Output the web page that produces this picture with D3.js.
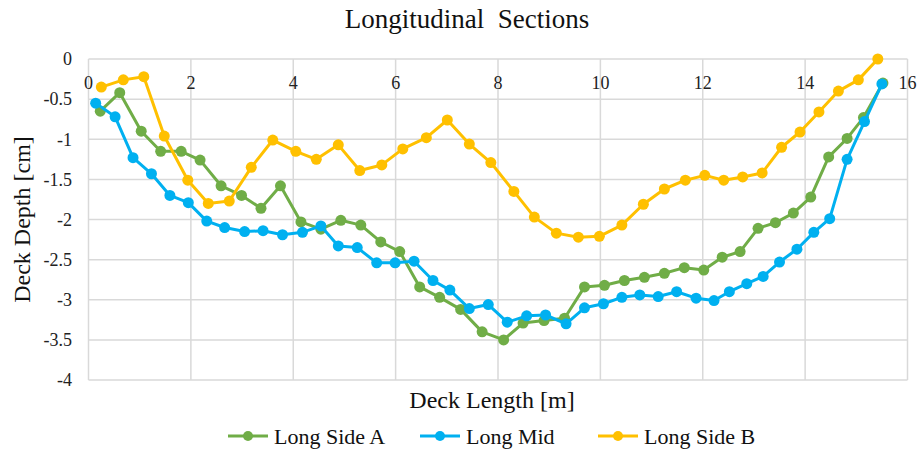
<!DOCTYPE html>
<html>
<head>
<meta charset="utf-8">
<script src="https://cdn.jsdelivr.net/npm/d3@7"></script>
<style>
  body { margin: 0; background: #fff; }
  svg { display: block; font-family: "Liberation Serif", "Times New Roman", serif; }
</style>
</head>
<body>
<div id="chart"></div>
<script>
// data
var sideAX = [0.23,0.61,1.03,1.41,1.81,2.18,2.59,2.99,3.37,3.75,4.15,4.54,4.93,5.32,5.71,6.08,6.47,6.86,7.27,7.69,8.11,8.49,8.90,9.30,9.69,10.08,10.47,10.86,11.25,11.64,12.02,12.38,12.73,13.08,13.42,13.77,14.11,14.46,14.82,15.14,15.52]
var sideAY = [-0.65,-0.42,-0.90,-1.15,-1.15,-1.26,-1.58,-1.70,-1.86,-1.58,-2.03,-2.12,-2.01,-2.07,-2.28,-2.40,-2.84,-2.97,-3.12,-3.40,-3.50,-3.29,-3.26,-3.23,-2.84,-2.82,-2.76,-2.72,-2.67,-2.60,-2.63,-2.47,-2.40,-2.11,-2.04,-1.92,-1.72,-1.22,-0.99,-0.73,-0.30]

var midX = [0.14,0.52,0.87,1.23,1.59,1.95,2.31,2.66,3.05,3.41,3.79,4.18,4.54,4.88,5.25,5.63,5.99,6.36,6.73,7.06,7.44,7.81,8.18,8.56,8.93,9.33,9.69,10.06,10.42,10.77,11.13,11.49,11.87,12.22,12.52,12.86,13.18,13.50,13.84,14.17,14.48,14.82,15.16,15.50]
var midY = [-0.55,-0.72,-1.23,-1.43,-1.70,-1.79,-2.02,-2.10,-2.15,-2.14,-2.19,-2.16,-2.08,-2.33,-2.35,-2.54,-2.54,-2.52,-2.76,-2.88,-3.11,-3.06,-3.28,-3.20,-3.19,-3.30,-3.10,-3.05,-2.97,-2.94,-2.96,-2.90,-2.98,-3.01,-2.90,-2.80,-2.71,-2.53,-2.37,-2.16,-1.99,-1.25,-0.78,-0.31]

var sideBX = [0.25,0.68,1.08,1.48,1.94,2.34,2.75,3.18,3.60,4.05,4.45,4.88,5.30,5.73,6.14,6.60,7.01,7.44,7.86,8.31,8.71,9.14,9.57,9.98,10.42,10.84,11.25,11.66,12.04,12.41,12.78,13.16,13.54,13.90,14.27,14.65,15.04,15.42]
var sideBY = [-0.35,-0.26,-0.22,-0.96,-1.51,-1.80,-1.77,-1.35,-1.01,-1.15,-1.25,-1.07,-1.39,-1.32,-1.12,-0.98,-0.76,-1.06,-1.29,-1.65,-1.97,-2.17,-2.22,-2.21,-2.07,-1.81,-1.62,-1.51,-1.45,-1.51,-1.47,-1.42,-1.10,-0.91,-0.66,-0.40,-0.26,0.0]

var seriesNames = ["Long Side A", "Long Mid", "Long Side B"]
var seriesColors = ["#70ad47", "#00b0f0", "#ffc000"]
var xTicks = [0, 2, 4, 6, 8, 10, 12, 14, 16]
var yTicks = [0, -0.5, -1, -1.5, -2, -2.5, -3, -3.5, -4]

var W = 921, H = 451

var series = [
  { name: seriesNames[0], color: seriesColors[0], pts: sideAX.map((x, i) => [x, sideAY[i]]) },
  { name: seriesNames[1], color: seriesColors[1], pts: midX.map((x, i) => [x, midY[i]]) },
  { name: seriesNames[2], color: seriesColors[2], pts: sideBX.map((x, i) => [x, sideBY[i]]) }
]

var x = d3.scaleLinear().domain([0, 16]).range([88.5, 907.5])
var y = d3.scaleLinear().domain([-4, 0]).range([380, 59])

var svg = d3.select("#chart").append("svg")
  .attr("width", W)
  .attr("height", H)

// grid
svg.append("g")
  .selectAll("line")
  .data(yTicks)
  .join("line")
  .attr("x1", x(0)).attr("x2", x(16))
  .attr("y1", d => y(d)).attr("y2", d => y(d))
  .attr("stroke", "#d9d9d9")
  .attr("stroke-width", 1.5)

svg.append("g")
  .selectAll("line")
  .data(xTicks)
  .join("line")
  .attr("x1", d => x(d)).attr("x2", d => x(d))
  .attr("y1", y(0)).attr("y2", y(-4))
  .attr("stroke", "#d9d9d9")
  .attr("stroke-width", 1.5)

// axis labels
svg.append("g")
  .selectAll("text")
  .data(yTicks)
  .join("text")
  .attr("x", 72)
  .attr("y", d => y(d))
  .attr("dy", "0.35em")
  .attr("text-anchor", "end")
  .attr("font-size", 18)
  .attr("fill", "#222")
  .text(d => d)

svg.append("g")
  .selectAll("text")
  .data(xTicks)
  .join("text")
  .attr("x", d => x(d))
  .attr("y", 89)
  .attr("text-anchor", "middle")
  .attr("font-size", 18)
  .attr("fill", "#222")
  .text(d => d)

// lines and points
var line = d3.line().x(d => x(d[0])).y(d => y(d[1]))

var g = svg.append("g")
series.forEach(function (s) {
  g.append("path")
    .datum(s.pts)
    .attr("d", line)
    .attr("fill", "none")
    .attr("stroke", s.color)
    .attr("stroke-width", 3)
    .attr("stroke-linejoin", "round")
  g.append("g")
    .selectAll("circle")
    .data(s.pts)
    .join("circle")
    .attr("cx", d => x(d[0]))
    .attr("cy", d => y(d[1]))
    .attr("r", 5.5)
    .attr("fill", s.color)
})

// titles
svg.append("text")
  .attr("x", 467)
  .attr("y", 28)
  .attr("text-anchor", "middle")
  .attr("font-size", 27)
  .attr("fill", "#111")
  .attr("xml:space", "preserve")
  .style("white-space", "pre")
  .text("Longitudinal  Sections")

svg.append("text")
  .attr("x", 492)
  .attr("y", 408)
  .attr("text-anchor", "middle")
  .attr("font-size", 24)
  .attr("fill", "#111")
  .text("Deck Length [m]")

svg.append("text")
  .attr("transform", "translate(30," + ((y(0) + y(-4)) / 2) + ") rotate(-90)")
  .attr("text-anchor", "middle")
  .attr("font-size", 24)
  .attr("fill", "#111")
  .text("Deck Depth [cm]")

// legend
var legendX = [228, 420, 598]
var leg = svg.append("g")
series.forEach(function (s, i) {
  var lx = legendX[i], ly = 436
  leg.append("line")
    .attr("x1", lx).attr("x2", lx + 40)
    .attr("y1", ly).attr("y2", ly)
    .attr("stroke", s.color)
    .attr("stroke-width", 3)
  leg.append("circle")
    .attr("cx", lx + 20).attr("cy", ly)
    .attr("r", 5)
    .attr("fill", s.color)
  leg.append("text")
    .attr("x", lx + 46)
    .attr("y", ly)
    .attr("dy", "0.35em")
    .attr("font-size", 22)
    .attr("fill", "#111")
    .attr("xml:space", "preserve")
    .style("white-space", "pre")
    .text(s.name)
})
</script>
</body>
</html>
